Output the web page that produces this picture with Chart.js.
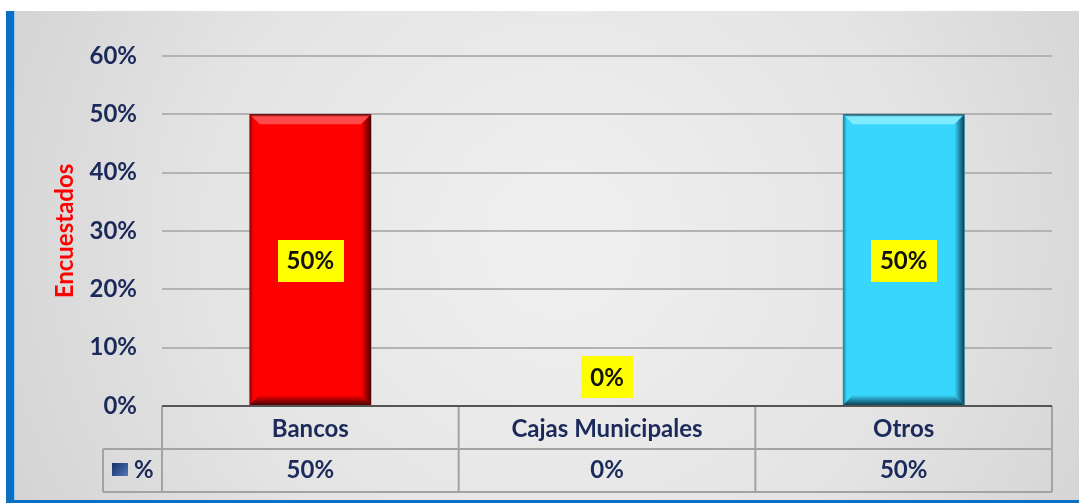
<!DOCTYPE html>
<html>
<head>
<meta charset="utf-8">
<title>Encuestados</title>
<script src="https://cdn.jsdelivr.net/npm/chart.js@4"></script>
<style>
  html, body { margin: 0; padding: 0; background: #fff; }
  #wrap { width: 1079px; height: 503px; position: relative; }
</style>
</head>
<body>
<div id="wrap"><canvas id="chart"></canvas></div>
<script>
// ----- data -----
const categories = ['Bancos', 'Cajas Municipales', 'Otros']
const seriesName = '%'
const pctValues = [50, 0, 50]
const yTicks = [0, 10, 20, 30, 40, 50, 60]
const axisTitle = 'Encuestados'

// ----- look -----
const barColors = ['#ff0000', '#ff0000', '#38d6fc']
const barLights = ['#ff4a4a', '#ff4a4a', '#80eaff']
const barDarks = ['#4a0000', '#4a0000', '#0b3e55']
const navy = '#1b2a5a'
const FONT = 'Lato'

const fmtPct = v => v + '%'

// frame: white strip on top, blue edge left and bottom, grey panel
const framePlugin = {
  id: 'frame',
  beforeDraw(chart) {
    const { ctx, width, height } = chart
    ctx.save()
    ctx.fillStyle = '#ffffff'
    ctx.fillRect(0, 0, width, height)
    const g = ctx.createRadialGradient(560, 240, 40, 560, 240, 620)
    g.addColorStop(0, '#efefef')
    g.addColorStop(0.55, '#e4e4e4')
    g.addColorStop(1, '#d3d3d3')
    ctx.fillStyle = g
    ctx.fillRect(14, 11, width - 14, height - 14)
    ctx.fillStyle = '#0b6fc4'
    ctx.fillRect(6, 11, 8, height - 11)
    ctx.fillRect(6, height - 3, width - 6, 3)
    ctx.fillStyle = '#9cc9f0'
    ctx.fillRect(14, 11, 1, height - 14)
    ctx.restore()
  },
}

// bevelled edges on each bar
const bevelPlugin = {
  id: 'bevel',
  afterDatasetsDraw(chart) {
    const { ctx } = chart
    const meta = chart.getDatasetMeta(0)
    meta.data.forEach((bar, i) => {
      const { x, y, base, width } = bar.getProps(['x', 'y', 'base', 'width'], true)
      const l = x - width / 2, r = x + width / 2, t = y, b = base
      if (b - t < 20) return
      const s = 10
      ctx.save()
      // top
      let g = ctx.createLinearGradient(0, t, 0, t + s)
      g.addColorStop(0, barDarks[i])
      g.addColorStop(0.25, barLights[i])
      g.addColorStop(1, barLights[i])
      ctx.fillStyle = g
      ctx.beginPath()
      ctx.moveTo(l, t); ctx.lineTo(r, t); ctx.lineTo(r - s, t + s); ctx.lineTo(l + s, t + s)
      ctx.closePath(); ctx.fill()
      // right
      g = ctx.createLinearGradient(r - s, 0, r, 0)
      g.addColorStop(0, barColors[i])
      g.addColorStop(1, barDarks[i])
      ctx.fillStyle = g
      ctx.beginPath()
      ctx.moveTo(r, t); ctx.lineTo(r, b); ctx.lineTo(r - s, b - s); ctx.lineTo(r - s, t + s)
      ctx.closePath(); ctx.fill()
      // bottom
      g = ctx.createLinearGradient(0, b - s, 0, b)
      g.addColorStop(0, barColors[i])
      g.addColorStop(1, barDarks[i])
      ctx.fillStyle = g
      ctx.beginPath()
      ctx.moveTo(l, b); ctx.lineTo(r, b); ctx.lineTo(r - s, b - s); ctx.lineTo(l + s, b - s)
      ctx.closePath(); ctx.fill()
      // left
      g = ctx.createLinearGradient(l, 0, l + 4, 0)
      g.addColorStop(0, barDarks[i])
      g.addColorStop(1, barColors[i])
      ctx.globalAlpha = 0.6
      ctx.fillStyle = g
      ctx.beginPath()
      ctx.moveTo(l, t); ctx.lineTo(l + s, t + s); ctx.lineTo(l + s, b - s); ctx.lineTo(l, b)
      ctx.closePath(); ctx.fill()
      ctx.restore()
    })
  },
}

// yellow value boxes
const valueLabelPlugin = {
  id: 'valueLabels',
  afterDatasetsDraw(chart) {
    const { ctx } = chart
    const meta = chart.getDatasetMeta(0)
    ctx.save()
    ctx.font = `bold 24px ${FONT}`
    ctx.textAlign = 'center'
    ctx.textBaseline = 'middle'
    meta.data.forEach((bar, i) => {
      const { x, y, base } = bar.getProps(['x', 'y', 'base'], true)
      const text = fmtPct(pctValues[i])
      const w = ctx.measureText(text).width + 18
      const h = 42
      const cy = (base - y) > h + 10 ? (y + base) / 2 + 1 : base - 29
      ctx.fillStyle = '#ffff00'
      ctx.fillRect(Math.round(x - w / 2), Math.round(cy - h / 2), Math.round(w), h)
      ctx.fillStyle = '#111111'
      ctx.fillText(text, x, cy + 1)
    })
    ctx.restore()
  },
}

// data table under the plot
const tablePlugin = {
  id: 'dataTable',
  afterDraw(chart) {
    const { ctx, chartArea } = chart
    const xs = chart.scales.x
    const top = chartArea.bottom
    const mid = top + 43
    const bot = top + 86
    const keyLeft = 103
    const edges = [chartArea.left]
    categories.forEach((c, i) => {
      const p = xs.getPixelForValue(i)
      edges.push(2 * p - edges[edges.length - 1])
    })
    ctx.save()
    ctx.strokeStyle = '#a3a3a3'
    ctx.lineWidth = 2
    ctx.beginPath()
    ctx.moveTo(keyLeft, mid); ctx.lineTo(chartArea.right, mid)
    ctx.moveTo(keyLeft, bot); ctx.lineTo(chartArea.right, bot)
    ctx.moveTo(keyLeft, mid); ctx.lineTo(keyLeft, bot)
    edges.forEach(e => { ctx.moveTo(e, top); ctx.lineTo(e, bot) })
    ctx.stroke()

    // axis line at 0
    ctx.strokeStyle = '#555555'
    ctx.beginPath()
    ctx.moveTo(chartArea.left, top); ctx.lineTo(chartArea.right, top)
    ctx.stroke()

    // legend key
    const kg = ctx.createLinearGradient(112, 463, 128, 476)
    kg.addColorStop(0, '#16306a')
    kg.addColorStop(1, '#4f78b8')
    ctx.fillStyle = kg
    ctx.fillRect(112, mid + 14, 16, 13)
    ctx.font = `bold 24px ${FONT}`
    ctx.fillStyle = navy
    ctx.textAlign = 'left'
    ctx.textBaseline = 'middle'
    ctx.fillText(seriesName, 134, (mid + bot) / 2)

    ctx.textAlign = 'center'
    pctValues.forEach((v, i) => {
      ctx.fillText(fmtPct(v), xs.getPixelForValue(i), (mid + bot) / 2)
    })
    ctx.restore()
  },
}

new Chart(document.getElementById('chart'), {
  type: 'bar',
  data: {
    labels: categories,
    datasets: [{
      label: seriesName,
      data: pctValues,
      backgroundColor: barColors,
      borderWidth: 0,
      barPercentage: 0.41,
      categoryPercentage: 1,
    }],
  },
  options: {
    responsive: true,
    maintainAspectRatio: false,
    animation: false,
    layout: { padding: { left: 50, right: 27, top: 56, bottom: 0 } },
    plugins: {
      legend: { display: false },
      tooltip: { enabled: false },
    },
    scales: {
      x: {
        grid: { display: false, drawTicks: false },
        border: { display: false },
        ticks: {
          color: navy,
          font: { family: FONT, size: 24, weight: 'bold' },
          padding: 9,
          maxRotation: 0,
        },
        afterFit(axis) { axis.height = 97 },
      },
      y: {
        min: 0,
        max: 60,
        afterBuildTicks(axis) { axis.ticks = yTicks.map(v => ({ value: v })) },
        grid: { color: '#b3b3b3', lineWidth: 2, drawTicks: false },
        border: { display: false },
        ticks: {
          color: navy,
          font: { family: FONT, size: 24, weight: 'bold' },
          padding: 25,
          callback: v => fmtPct(v),
        },
        title: {
          display: true,
          text: axisTitle,
          color: '#ff0000',
          font: { family: FONT, size: 24, weight: 'bold' },
          padding: { top: 1, bottom: 0 },
        },
        afterFit(axis) { axis.width = 112 },
      },
    },
  },
  plugins: [framePlugin, bevelPlugin, valueLabelPlugin, tablePlugin],
})
</script>
</body>
</html>
